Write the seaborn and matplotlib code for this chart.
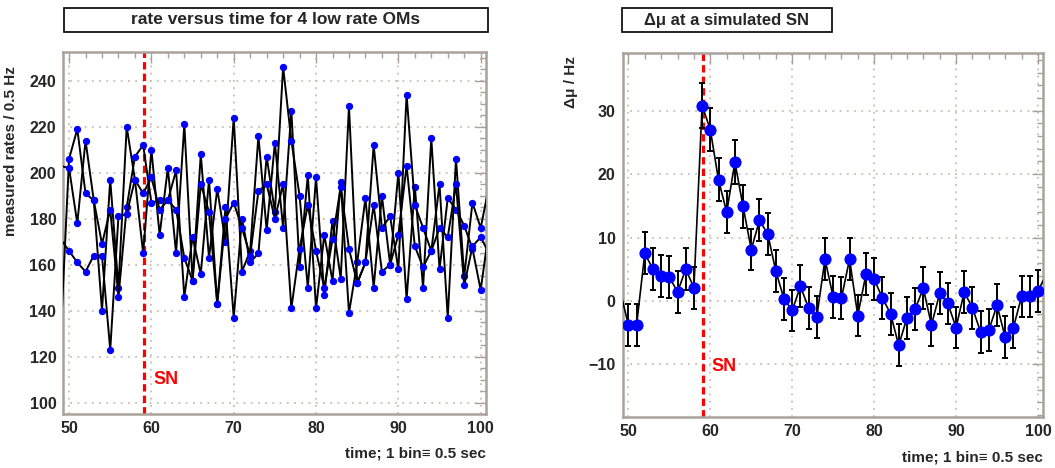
import matplotlib
matplotlib.use("Agg")
import matplotlib.pyplot as plt
from matplotlib.patches import Rectangle
from matplotlib.ticker import MultipleLocator
import seaborn as sns

# time bins (one step beyond each side so the lines run into the frame)
time_bins = list(range(49, 102))

# measured rates for the low rate OMs
om_rate_a = [130, 206, 219, 191, 188, 140, 197, 150, 220, 197, 165, 210, 173, 202, 165,
             221, 153, 208, 163, 193, 170, 224, 157, 166, 216, 175, 213, 176, 227, 159,
             199, 141, 173, 153, 196, 139, 161, 189, 150, 190, 160, 200, 145, 194, 150,
             215, 158, 189, 184, 177, 167, 149, 175]
om_rate_b = [203, 202, 178, 214, 188, 169, 184, 146, 185, 207, 212, 187, 188, 188, 201,
             146, 172, 156, 197, 143, 185, 137, 180, 161, 165, 207, 183, 246, 214, 190,
             150, 198, 147, 179, 154, 229, 152, 161, 212, 176, 181, 158, 234, 186, 176,
             166, 195, 137, 206, 155, 187, 176, 194]
om_rate_c = [171, 166, 161, 157, 164, 164, 123, 181, 182, 197, 191, 198, 184, 188, 184,
             163, 153, 195, 183, 143, 180, 187, 176, 164, 192, 195, 180, 195, 141, 167,
             186, 166, 150, 171, 194, 167, 152, 161, 186, 157, 160, 173, 203, 168, 159,
             166, 176, 172, 195, 151, 168, 172, 165]

# delta mu at the simulated supernova, right panel
delta_mu = [1.6, -3.8, -3.8, 7.5, 5.0, 3.9, 3.8, 1.4, 5.0, 2.1, 30.8, 27.0, 19.1, 14.0,
            21.9, 14.9, 8.1, 12.7, 10.6, 4.7, 0.3, -1.5, 2.3, -1.1, -2.5, 6.6, 0.6, 0.4,
            6.6, -2.3, 4.2, 3.4, 0.5, -2.0, -7.0, -2.7, -1.3, 2.0, -3.8, 1.2, -0.4, -4.2,
            1.4, -1.1, -4.9, -4.6, -0.7, -5.7, -4.2, 0.7, 0.7, 1.6, 4.1]
delta_mu_err = [3.3, 3.3, 3.3, 3.3, 3.3, 3.3, 3.3, 3.3, 3.3, 3.3, 3.5, 3.4, 3.4, 3.3,
                3.4, 3.4, 3.3, 3.3, 3.3, 3.3, 3.3, 3.3, 3.3, 3.3, 3.3, 3.3, 3.3, 3.3,
                3.3, 3.3, 3.3, 3.3, 3.3, 3.3, 3.3, 3.3, 3.3, 3.3, 3.3, 3.3, 3.3, 3.3,
                3.3, 3.3, 3.3, 3.3, 3.3, 3.3, 3.3, 3.3, 3.3, 3.3, 3.3]

sn_time = 59.1
left_title = "rate versus time for 4 low rate OMs"
right_title = "\u0394\u03bc at a simulated SN"
left_ylabel = "measured rates / 0.5 Hz"
right_ylabel = "\u0394\u03bc / Hz"
xlabel = "time; 1 bin\u2261 0.5 sec"

sns.set_theme(style="white")
plt.rcParams["font.family"] = ["Liberation Sans", "DejaVu Sans"]
plt.rcParams["font.weight"] = "bold"

frame_col = "#aaa29a"
grid_col = "#c8bfb6"
inner = slice(1, len(time_bins) - 1)  # markers only on the bins inside the frame

fig = plt.figure(figsize=(10.55, 4.68), dpi=100)
ax_l = fig.add_axes([0.0600, 0.1154, 0.4007, 0.7735])
ax_r = fig.add_axes([0.5902, 0.1090, 0.3987, 0.7778])


def style_axis(ax, y_major, y_minor):
    ax.set_xlim(49.3, 100.65)
    ax.xaxis.set_major_locator(MultipleLocator(10))
    ax.xaxis.set_minor_locator(MultipleLocator(2))
    ax.yaxis.set_major_locator(MultipleLocator(y_major))
    ax.yaxis.set_minor_locator(MultipleLocator(y_minor))
    ax.grid(True, which="major", color=grid_col, linestyle=(0, (1, 3)), linewidth=1.3)
    ax.tick_params(which="both", direction="in", top=True, right=True, color=frame_col,
                   width=1, labelsize=11.5, pad=5)
    ax.tick_params(which="major", length=8)
    ax.tick_params(which="minor", length=4)
    for lab in ax.get_xticklabels() + ax.get_yticklabels():
        lab.set_fontweight("bold")
    for sp in ax.spines.values():
        sp.set_color(frame_col)
        sp.set_linewidth(1.8)


# ---- left panel: raw rates ----
for rates in [om_rate_a, om_rate_b, om_rate_c]:
    sns.lineplot(x=time_bins, y=rates, ax=ax_l, color="black", linewidth=1.4,
                 marker="o", markersize=4.5, markerfacecolor="blue",
                 markeredgecolor="blue", markevery=inner, sort=False,
                 estimator=None, zorder=3)
ax_l.axvline(sn_time, color="red", linestyle=(0, (2.3, 1.3)), linewidth=2.3, zorder=2)
ax_l.text(60.2, 110, "SN", color="red", fontsize=13, fontweight="bold", va="center")
ax_l.set_ylim(95.1, 252.5)
style_axis(ax_l, 20, 5)
ax_l.set_ylabel(left_ylabel, fontsize=11, fontweight="bold", loc="top")
ax_l.yaxis.set_label_coords(-0.107, 0.96)
ax_l.set_xlabel(xlabel, fontsize=11, fontweight="bold", loc="right")
ax_l.xaxis.set_label_coords(1.0, -0.108)
ax_l.xaxis.label.set_va("center")

# ---- right panel: delta mu with errors ----
ax_r.errorbar(time_bins[inner], delta_mu[inner], yerr=delta_mu_err[inner], fmt="none",
              ecolor="black", elinewidth=1.4, capsize=2, capthick=1.4, zorder=3)
sns.lineplot(x=time_bins, y=delta_mu, ax=ax_r, color="black", linewidth=1.2,
             marker="o", markersize=8, markerfacecolor="blue", markeredgecolor="blue",
             markevery=inner, sort=False, estimator=None, zorder=4)
ax_r.axvline(sn_time, color="red", linestyle=(0, (2.3, 1.3)), linewidth=2.3, zorder=2)
ax_r.text(60.2, -10.3, "SN", color="red", fontsize=13, fontweight="bold", va="center")
ax_r.set_ylim(-18.3, 39.1)
style_axis(ax_r, 10, 2)
ax_r.set_ylabel(right_ylabel, fontsize=11, fontweight="bold", loc="top")
ax_r.yaxis.set_label_coords(-0.106, 0.99)
ax_r.set_xlabel(xlabel, fontsize=11, fontweight="bold", loc="right")
ax_r.xaxis.set_label_coords(1.0, -0.11)
ax_r.xaxis.label.set_va("center")

# ---- title boxes ----
for x0, w, txt, fs in [(64, 424, left_title, 12.5), (622, 210, right_title, 12)]:
    fig.add_artist(Rectangle((x0 / 1055, 1 - 32 / 468), w / 1055, 24 / 468,
                             transform=fig.transFigure, facecolor="white",
                             edgecolor="black", linewidth=1.2))
    fig.text((x0 + w / 2) / 1055, 1 - 20 / 468, txt, ha="center", va="center",
             fontsize=fs, fontweight="bold")

fig.savefig("out.png", dpi=100)
